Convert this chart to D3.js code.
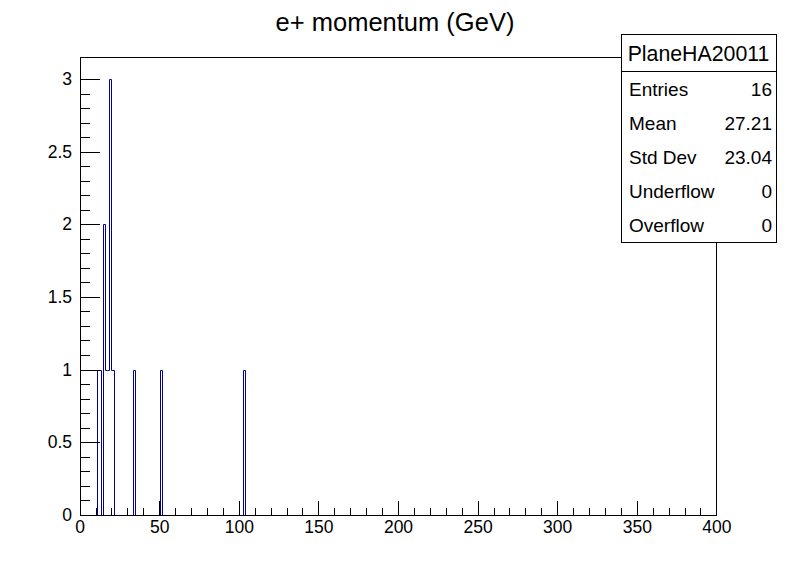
<!DOCTYPE html>
<html>
<head>
<meta charset="utf-8">
<script src="https://cdn.jsdelivr.net/npm/d3@7"></script>
<style>
  body { margin: 0; background: #fff; }
  svg { display: block; font-family: "Liberation Sans", Arial, Helvetica, sans-serif; }
  .axis path { display: none; }
  .axis line { stroke: #000; shape-rendering: crispEdges; }
  .axis text { fill: #000; font-size: 17.5px; }
</style>
</head>
<body>
<div id="chart"></div>
<script>
// Histogram binning (300 bins over 0-400 GeV)
const nBins = 300;
const xMin = 0;
const xMax = 400;

// Non-empty bins: bin index and entries
const binIndex = [8, 9, 11, 12, 13, 14, 15, 25, 38, 77];
const binCount = [1, 1, 2, 1, 1, 3, 1, 1, 1, 1];

// Axis tick labels
const xTickLabels = ["0", "50", "100", "150", "200", "250", "300", "350", "400"];
const yTickLabels = ["0", "0.5", "1", "1.5", "2", "2.5", "3"];

// Stats box
const statsTitle = "PlaneHA20011";
const statsNames = ["Entries", "Mean", "Std Dev", "Underflow", "Overflow"];
const statsValues = ["16", "27.21", "23.04", "0", "0"];

const chartTitle = "e+ momentum (GeV)";

const width = 796,
  height = 572;
const margin = { top: 57.2, right: 79.6, bottom: 57.2, left: 79.6 };
const yTop = 3.15;

const svg = d3.select("#chart")
  .append("svg")
  .attr("width", width)
  .attr("height", height);

const x = d3.scaleLinear()
  .domain([xMin, xMax])
  .range([margin.left, width - margin.right]);

const y = d3.scaleLinear()
  .domain([0, yTop])
  .range([height - margin.bottom, margin.top]);

// snap to the pixel grid like the original output
const px = v => Math.round(x(v)) + 0.5;
const py = v => Math.round(y(v)) + 0.5;

// Fill the full bin contents from the sparse lists
const counts = new Array(nBins).fill(0);
binIndex.forEach((b, i) => { counts[b] = binCount[i]; });
const binW = (xMax - xMin) / nBins;

// Step outline points
const pts = [[xMin, 0]];
counts.forEach((c, k) => pts.push([xMin + k * binW, c]));
pts.push([xMax, counts[nBins - 1]]);
pts.push([xMax, 0]);

const line = d3.line()
  .x(d => px(d[0]))
  .y(d => py(d[1]))
  .curve(d3.curveStepAfter);

svg.append("path")
  .attr("d", line(pts))
  .attr("fill", "none")
  .attr("stroke", "rgb(0,0,153)")
  .attr("stroke-width", 1);

// Frame
svg.append("rect")
  .attr("x", px(xMin))
  .attr("y", py(yTop))
  .attr("width", px(xMax) - px(xMin))
  .attr("height", py(0) - py(yTop))
  .attr("fill", "none")
  .attr("stroke", "#000");

// X axis: minor then major ticks
const xMajor = xTickLabels.map(Number);
const xMinor = d3.range(xMin, xMax + 1, 10).filter(v => v % 50 !== 0);

svg.append("g")
  .attr("class", "axis")
  .attr("transform", `translate(0,${Math.round(y(0))})`)
  .call(d3.axisBottom(x).tickValues(xMinor).tickSize(-7).tickSizeOuter(0).tickFormat(""));

svg.append("g")
  .attr("class", "axis")
  .attr("transform", `translate(0,${Math.round(y(0))})`)
  .call(d3.axisBottom(x).tickValues(xMajor).tickSize(-14).tickSizeOuter(0).tickPadding(6)
    .tickFormat((d, i) => xTickLabels[i]));

// Y axis
const yMajor = yTickLabels.map(Number);
const yMinor = d3.range(0, 31).map(v => v / 10).filter(v => Math.round(v * 10) % 5 !== 0);

svg.append("g")
  .attr("class", "axis")
  .attr("transform", `translate(${Math.round(x(xMin))},0)`)
  .call(d3.axisLeft(y).tickValues(yMinor).tickSize(-10).tickSizeOuter(0).tickFormat(""));

svg.append("g")
  .attr("class", "axis")
  .attr("transform", `translate(${Math.round(x(xMin))},0)`)
  .call(d3.axisLeft(y).tickValues(yMajor).tickSize(-20).tickSizeOuter(0).tickPadding(8)
    .tickFormat((d, i) => yTickLabels[i]));

// Title
svg.append("text")
  .attr("x", 395)
  .attr("y", 31)
  .attr("text-anchor", "middle")
  .attr("font-size", "25.5px")
  .text(chartTitle);

// Stats box
const box = { x: 621, y: 34.5, w: 155, titleH: 37, rowH: 34.2 };
const stats = svg.append("g");

stats.append("rect")
  .attr("x", box.x)
  .attr("y", box.y)
  .attr("width", box.w)
  .attr("height", box.titleH + box.rowH * statsNames.length)
  .attr("fill", "#fff")
  .attr("stroke", "#000")
  .attr("shape-rendering", "crispEdges");

stats.append("line")
  .attr("x1", box.x)
  .attr("x2", box.x + box.w)
  .attr("y1", box.y + box.titleH)
  .attr("y2", box.y + box.titleH)
  .attr("stroke", "#000")
  .attr("shape-rendering", "crispEdges");

stats.append("text")
  .attr("x", box.x + box.w / 2)
  .attr("y", box.y + box.titleH / 2 + 7.7)
  .attr("text-anchor", "middle")
  .attr("font-size", "21.3px")
  .text(statsTitle);

statsNames.forEach((name, i) => {
  const cy = box.y + box.titleH + box.rowH * (i + 0.5) + 6.9;
  stats.append("text")
    .attr("x", box.x + 8)
    .attr("y", cy)
    .attr("font-size", "19px")
    .text(name);
  stats.append("text")
    .attr("x", box.x + box.w - 4)
    .attr("y", cy)
    .attr("text-anchor", "end")
    .attr("font-size", "19px")
    .text(statsValues[i]);
});
</script>
</body>
</html>
